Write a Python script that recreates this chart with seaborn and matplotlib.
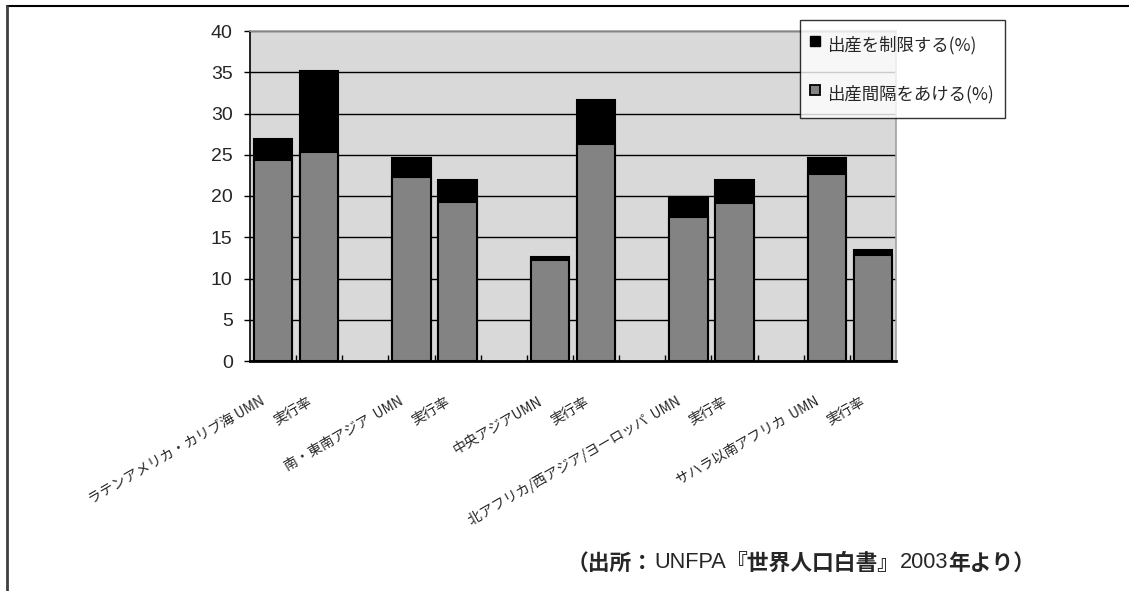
import matplotlib
matplotlib.use("Agg")
import matplotlib.pyplot as plt
from matplotlib.lines import Line2D
import numpy as np
import pandas as pd
import seaborn as sns

# Unmet need (UMN) and contraceptive prevalence (実行率) by region, split into
# "spacing births" and "limiting births" shares (%).
bar_labels = [
    "ラテンアメリカ・カリブ海 UMN", "実行率", "",
    "南・東南アジア  UMN", "実行率", "",
    "中央アジアUMN", "実行率", "",
    "北アフリカ/西アジア/ヨーロッパ  UMN", "実行率", "",
    "サハラ以南アフリカ  UMN", "実行率",
]
spacing = [24.4, 25.3, np.nan, 22.3, 19.3, np.nan, 12.3, 26.3, np.nan,
           17.4, 19.2, np.nan, 22.7, 12.9]
limiting = [2.5, 9.8, np.nan, 2.3, 2.6, np.nan, 0.3, 5.3, np.nan,
            2.5, 2.7, np.nan, 1.9, 0.6]
series_names = ["出産を制限する(%)", "出産間隔をあける(%)"]
y_ticks = [0, 5, 10, 15, 20, 25, 30, 35, 40]

sns.set_theme(style="white")
plt.rcParams["font.family"] = ["Noto Sans CJK JP", "DejaVu Sans"]

slot = [f"c{i}" for i in range(len(bar_labels))]
df = pd.DataFrame({
    "slot": slot,
    "spacing": spacing,
    "total": np.array(spacing) + np.array(limiting),
})

W, H, DPI = 1129, 591, 100
fig = plt.figure(figsize=(W / DPI, H / DPI), dpi=DPI)
ax = fig.add_axes([250 / W, 1 - 361 / H, (896 - 250) / W, (361 - 31) / H])
ax.set_facecolor("#d9d9d9")
ax.set_ylim(0, 40)
ax.set_yticks(y_ticks)
ax.yaxis.grid(True, color="black", linewidth=1.0)
ax.set_axisbelow(True)

# stacked bars: full height in black, spacing share drawn over it in gray
gray = "#838383"
bar_w = 0.83
sns.barplot(data=df, x="slot", y="total", order=slot, color="black",
            width=bar_w, edgecolor="black", linewidth=1.5, saturation=1,
            ax=ax, zorder=2)
sns.barplot(data=df, x="slot", y="spacing", order=slot, color=gray,
            width=bar_w, edgecolor="black", linewidth=1.5, saturation=1,
            ax=ax, zorder=3)
ax.set_xlim(-0.5, len(slot) - 0.5)
ax.set_xlabel("")
ax.set_ylabel("")

# category labels, rotated and hung beneath each bar
ax.set_xticks(range(len(slot)))
ax.set_xticklabels([])
ax.tick_params(axis="x", which="major", length=0)
ax.set_xticks(np.arange(0.5, len(slot) - 0.5, 1.0), minor=True)
ax.tick_params(axis="x", which="minor", direction="in", length=4,
               width=1, color="black", bottom=True)
for i, lab in enumerate(bar_labels):
    if not lab:
        continue
    ax.annotate(lab, xy=(i, 0), xycoords="data",
                xytext=(-6.5, -28), textcoords="offset points",
                rotation=30, ha="right", va="center",
                rotation_mode="anchor", fontsize=10)

ax.tick_params(axis="y", which="major", direction="out", length=4, width=1,
               color="black", left=True, labelsize=14, pad=8.5)
for t in ax.get_yticklabels():
    t.set_family(["Liberation Sans", "DejaVu Sans"])

for side in ("top", "right"):
    ax.spines[side].set_color("#a0a0a0")
    ax.spines[side].set_linewidth(1.2)
ax.spines["left"].set_color("black")
ax.spines["left"].set_linewidth(1.2)
ax.spines["bottom"].set_color("black")
ax.spines["bottom"].set_linewidth(2)

handles = [
    Line2D([], [], linestyle="none", marker="s", markersize=6.5,
           markerfacecolor="black", markeredgecolor="black", markeredgewidth=1),
    Line2D([], [], linestyle="none", marker="s", markersize=6.5,
           markerfacecolor=gray, markeredgecolor="black", markeredgewidth=1.3),
]
leg = fig.legend(handles, series_names, loc="upper left",
                 bbox_to_anchor=(800 / W, 1 - 20 / H), frameon=True,
                 fancybox=False, shadow=False, fontsize=12.5,
                 handlelength=0.45, handleheight=2.0, handletextpad=0.45,
                 labelspacing=1.28, borderpad=0.64, borderaxespad=0)
leg.get_frame().set_edgecolor("black")
leg.get_frame().set_linewidth(1)
leg.set_zorder(10)

# outer frame (top and left edges)
fig.add_artist(Line2D([7 / W, 1], [1 - 6 / H, 1 - 6 / H],
                      transform=fig.transFigure, color="black", linewidth=1.5))
fig.add_artist(Line2D([7 / W, 7 / W], [0, 1 - 6 / H],
                      transform=fig.transFigure, color="#404040", linewidth=2))

# source note, mixing bold Japanese and regular Latin runs
pieces = [("（出所：", "bold", None), ("UNFPA", "normal", "Liberation Sans"),
          ("『世界人口白書』", "bold", None), ("2003", "normal", "Liberation Sans"),
          ("年より）", "bold", None)]
renderer = fig.canvas.get_renderer()
x_px = 567
y_px = H - 563
for txt, wt, fam in pieces:
    kw = {} if fam is None else {"family": [fam, "DejaVu Sans"]}
    t = fig.text(x_px / W, y_px / H, txt, fontsize=15.7, fontweight=wt,
                 ha="left", va="center", **kw)
    x_px = t.get_window_extent(renderer=renderer).x1

fig.savefig("out.png", dpi=DPI)
